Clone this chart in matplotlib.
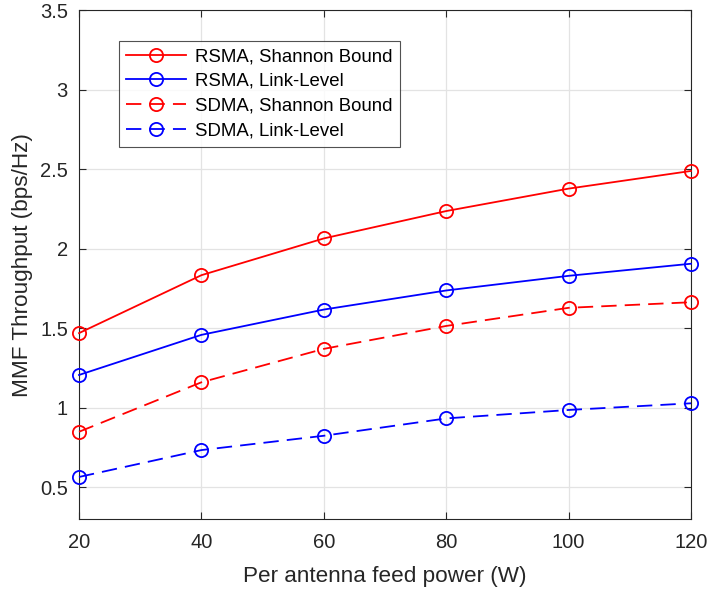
import matplotlib
matplotlib.use('Agg')
import matplotlib.pyplot as plt

plt.rcParams['font.family'] = ['Liberation Sans', 'DejaVu Sans']

power = [20, 40, 60, 80, 100, 120]
rsma_shannon = [1.47, 1.834, 2.065, 2.237, 2.378, 2.489]
rsma_link = [1.207, 1.459, 1.618, 1.738, 1.830, 1.906]
sdma_shannon = [0.850, 1.161, 1.371, 1.515, 1.629, 1.664]
sdma_link = [0.566, 0.735, 0.825, 0.934, 0.987, 1.029]

series = [
    (rsma_shannon, 'red', '-', 'RSMA, Shannon Bound'),
    (rsma_link, 'blue', '-', 'RSMA, Link-Level'),
    (sdma_shannon, 'red', '--', 'SDMA, Shannon Bound'),
    (sdma_link, 'blue', '--', 'SDMA, Link-Level'),
]

fig = plt.figure(figsize=(7.08, 5.92), dpi=100)
ax = fig.add_axes([0.1116, 0.1228, 0.8644, 0.8602])

for vals, col, ls, lab in series:
    ln, = ax.plot(power, vals, color=col, linestyle=ls, linewidth=1.3,
                  marker='o', markersize=9.5, markerfacecolor='none',
                  markeredgewidth=1.3, label=lab, clip_on=False, zorder=3)
    if ls == '--':
        ln.set_dashes((8.5, 4.5))

ax.set_xlim(20, 120)
ax.set_ylim(0.3, 3.5)
ax.set_xticks(power)
ax.set_yticks([0.5, 1, 1.5, 2, 2.5, 3, 3.5])
ax.set_yticklabels(['0.5', '1', '1.5', '2', '2.5', '3', '3.5'])

ax.grid(True, color='#e3e3e3', linewidth=0.9)
ax.set_axisbelow(True)
ax.tick_params(direction='in', length=5, width=0.8, colors='#262626',
               labelsize=14.5, top=True, right=True, pad=8)
ax.tick_params(axis='x', pad=10)
for sp in ax.spines.values():
    sp.set_color('#262626')
    sp.set_linewidth(0.8)

ax.set_xlabel('Per antenna feed power (W)', fontsize=16.2, color='#262626', labelpad=10)
ax.set_ylabel('MMF Throughput (bps/Hz)', fontsize=16.2, color='#262626', labelpad=5)

leg = ax.legend(loc='upper left', bbox_to_anchor=(0.065, 0.94), fontsize=13.4,
                frameon=True, fancybox=False, handlelength=3.2,
                handletextpad=0.5, borderpad=0.4, labelspacing=0.42,
                borderaxespad=0)
leg.get_frame().set_edgecolor('#262626')
leg.get_frame().set_linewidth(0.8)

fig.savefig('out.png', dpi=100)
